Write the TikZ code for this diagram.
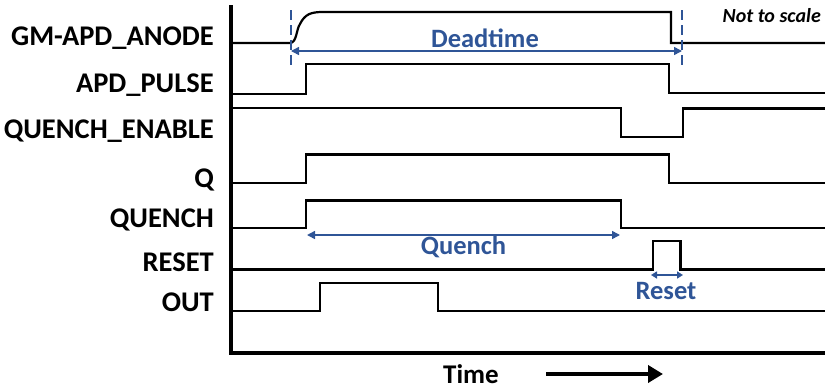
\documentclass[tikz,border=0pt]{standalone}
\usepackage{fontspec}
\setmainfont{Carlito}
\usetikzlibrary{arrows.meta}
\definecolor{dblue}{RGB}{47,85,151}
\begin{document}
\begin{tikzpicture}[x=1pt,y=-1pt,
  sig/.style={line width=2.2pt,line join=miter},
  lbl/.style={anchor=east,font=\fontsize{28.5}{28.5}\selectfont\bfseries,inner sep=0pt},
  axis/.style={line width=3.5pt},
  dim/.style={draw=dblue,line width=1.5pt,{Triangle[length=8pt,width=8pt]}-{Triangle[length=8pt,width=8pt]}},
  dimtxt/.style={text=dblue,font=\fontsize{26.5}{26.5}\selectfont\bfseries,inner sep=0pt},
  guide/.style={draw=dblue,line width=1.5pt,dash pattern=on 10pt off 5pt}]
\useasboundingbox (0,0) rectangle (825,389);
% labels
\node[lbl] (l1) at (214,38) {GM-APD\_ANODE};
\node[lbl] (l2) at (214,85) {APD\_PULSE};
\node[lbl] (l3) at (214,131) {QUENCH\_ENABLE};
\node[lbl] (l4) at (214,180) {Q};
\node[lbl] (l5) at (214,220) {QUENCH};
\node[lbl] (l6) at (214,262) {RESET};
\node[lbl] (l7) at (214,302) {OUT};
\node[anchor=east,font=\fontsize{20}{20}\selectfont\bfseries\itshape,inner sep=0pt] (nts) at (821,16) {Not to scale};
% axes
\draw[axis] (231,5) -- (231,353) -- (825,353);
% signals
\draw[sig] (231,43) -- (290,43) .. controls (297,42.5) and (296,30) .. (300,24) .. controls (305,14) and (311,12) .. (323,12) -- (671,12) -- (671,43) -- (825,43);
\draw[sig] (231,94) -- (306,94) -- (306,64) -- (669,64) -- (669,93) -- (825,93);
\draw[sig] (231,108) -- (621,108) -- (621,137) -- (683,137) -- (683,108.5) -- (825,108.5);
\draw[sig] (231,183) -- (306,183) -- (306,154.5) -- (669,154.5) -- (669,183) -- (825,183);
\draw[sig] (231,228) -- (306,228) -- (306,200.5) -- (621,200.5) -- (621,228) -- (825,228);
\draw[sig] (231,269.5) -- (653,269.5) -- (653,241) -- (680.5,241) -- (680.5,269.5) -- (825,269.5);
\draw[sig] (231,311) -- (320,311) -- (320,283) -- (438,283) -- (438,311) -- (825,311);
% deadtime
\coordinate (d1) at (291,51);
\coordinate (d2) at (682,51);
\draw[guide] (291,10) -- (291,66);
\draw[guide] (682,10) -- (682,66);
\draw[dim] (d1) -- (d2);
\node[dimtxt] (dt) at (485,38) {Deadtime};
% quench
\coordinate (q1) at (307,235);
\coordinate (q2) at (620,235);
\draw[dim] (q1) -- (q2);
\node[dimtxt] (qt) at (463.5,247) {Quench};
% reset
\coordinate (r1) at (651,275);
\coordinate (r2) at (683,275);
\draw[dim,{Triangle[length=6pt,width=7pt]}-{Triangle[length=6pt,width=7pt]}] (r1) -- (r2);
\node[dimtxt] (rt) at (666,291) {Reset};
% time
\node[font=\fontsize{27}{27}\selectfont\bfseries,inner sep=0pt] (time) at (471,374) {Time};
\coordinate (t1) at (546,374);
\coordinate (t2) at (663,374);
\draw[line width=4.5pt,-{Triangle[length=15pt,width=17pt]}] (t1) -- (t2);
\end{tikzpicture}
\end{document}
